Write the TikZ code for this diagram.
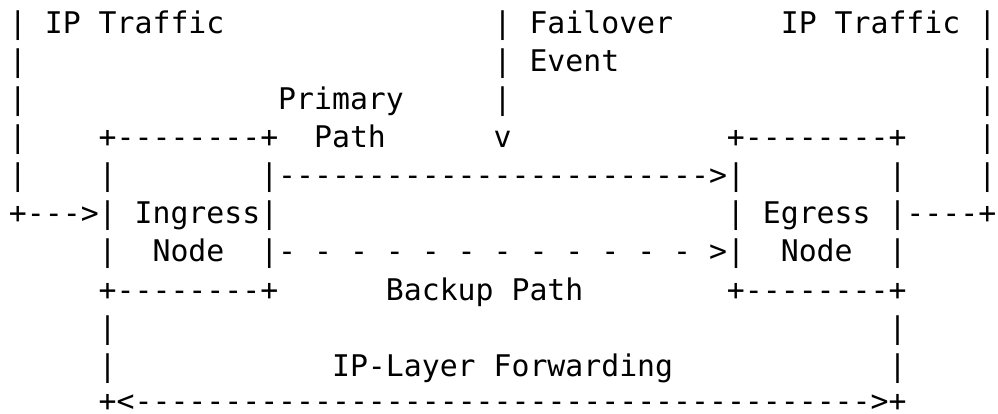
\documentclass[tikz,border=0pt]{standalone}
\usepackage{fontspec}
\setmonofont{DejaVu Sans Mono}

\begin{document}
\begin{tikzpicture}[x=17.95pt, y=-38.15pt,
  txt/.style={anchor=base west, inner sep=0pt, outer sep=0pt,
    font=\ttfamily\fontsize{29.82pt}{38pt}\selectfont}]
            \useasboundingbox (-0.5,-0.865) rectangle (55.1,9.987);

            % outer traffic loop
            \node[txt] (inL) at (0,0) {| IP Traffic};
            \node[txt] (outR) at (43,0) {IP Traffic |};
            \foreach \r in {1,...,4} {
                \node[txt] (barL\r) at (0,\r) {|};
                \node[txt] (barR\r) at (54,\r) {|};
            }

            % failover event
            \node[txt] (fail) at (27,0) {| Failover};
            \node[txt] (event) at (27,1) {| Event};
            \node[txt] (failbar) at (27,2) {|};
            \node[txt] (failtip) at (27,3) {v};

            % ingress node
            \node[txt] (ingT) at (5,3) {+--------+};
            \node[txt] (ingA) at (5,4) {|};
            \node[txt] (ingB) at (0,5) {+--->| Ingress|};
            \node[txt] (ingC) at (5,6) {|};
            \node[txt] (ingN) at (8,6) {Node};
            \node[txt] (ingE) at (5,7) {+--------+};

            % egress node
            \node[txt] (egrT) at (40,3) {+--------+};
            \node[txt] (egrA) at (49,4) {|};
            \node[txt] (egrB) at (40,5) {| Egress |----+};
            \node[txt] (egrN) at (43,6) {Node};
            \node[txt] (egrD) at (49,6) {|};
            \node[txt] (egrE) at (40,7) {+--------+};

            % paths
            \node[txt] (prim) at (15,2) {Primary};
            \node[txt] (primP) at (17,3) {Path};
            \node[txt] (primA) at (14,4) {|------------------------>|};
            \node[txt] (backA) at (14,6) {|- - - - - - - - - - - - >|};
            \node[txt] (back) at (21,7) {Backup Path};

            % ip forwarding
            \node[txt] (fwdL1) at (5,8) {|};
            \node[txt] (fwdR1) at (49,8) {|};
            \node[txt] (fwdL2) at (5,9) {|};
            \node[txt] (fwd) at (18,9) {IP-Layer Forwarding};
            \node[txt] (fwdR2) at (49,9) {|};
            \node[txt, text depth=0pt] (fwdA) at (5,9.92) {+<----------------------------------------->+};
        \end{tikzpicture}
\end{document}
